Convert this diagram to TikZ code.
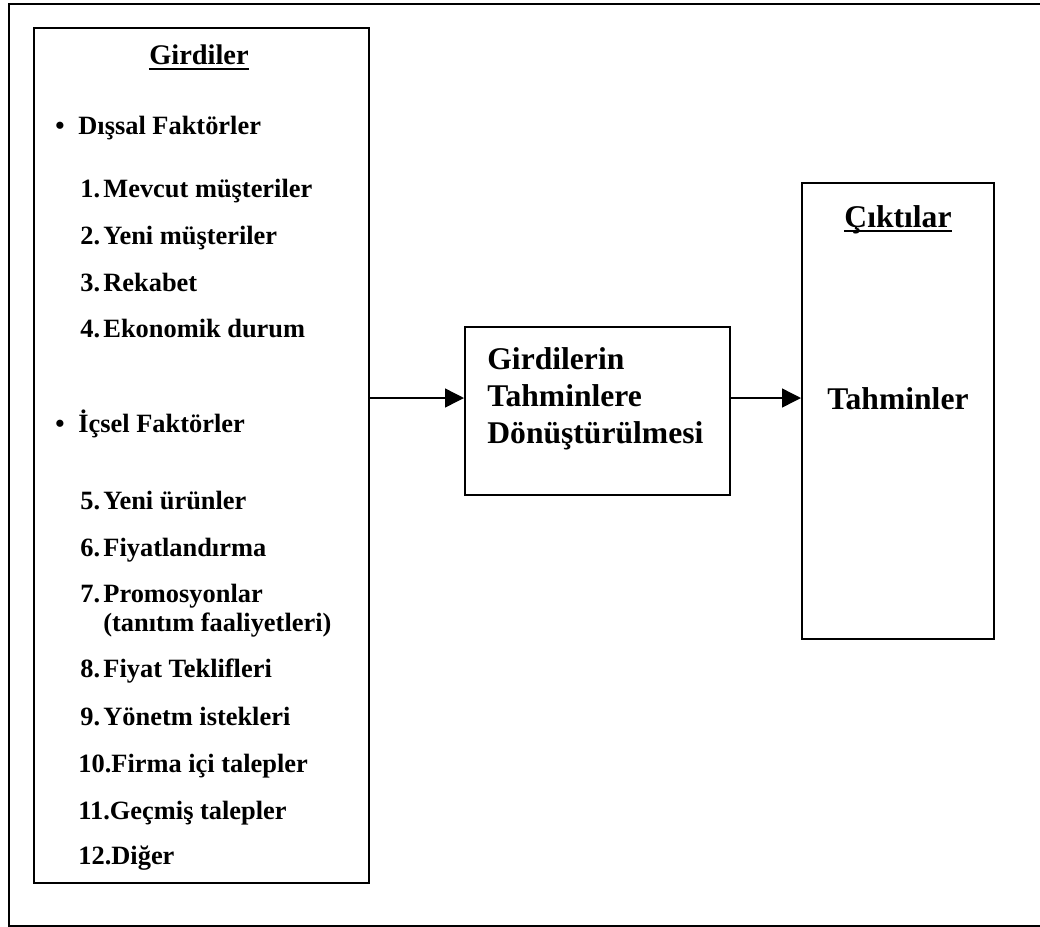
\documentclass[tikz,border=0pt]{standalone}
\usepackage{fontspec}
\setmainfont{Liberation Serif}
\usetikzlibrary{arrows.meta}

\begin{document}
\begin{tikzpicture}[x=0.5pt, y=-0.5pt,
  kutu/.style={draw, line width=1pt, inner sep=0pt},
  baslik/.style={anchor=base, inner sep=0pt, font=\fontsize{13.2}{15}\selectfont\bfseries},
  madde/.style={anchor=base west, inner sep=0pt, font=\fontsize{13.2}{15}\selectfont\bfseries},
  buyuk/.style={anchor=base west, inner sep=0pt, font=\fontsize{15.8}{18.5}\selectfont\bfseries},
  alt/.style={line width=1pt},
  ok/.style={line width=0.7pt, -{Triangle[length=9.5pt, width=9.5pt]}}]
\useasboundingbox (0,0) rectangle (1040,927);
\draw[line width=1pt] (9,4) rectangle (1046,926);
% kutular
\path (201.5,455.5) node[kutu, minimum width=167.5pt, minimum height=427.5pt] (girdi) {};
\path (597.5,411) node[kutu, minimum width=132.5pt, minimum height=84pt] (cevir) {};
\path (898,411) node[kutu, minimum width=96pt, minimum height=228pt] (cikti) {};
% girdiler
\path (199,64) node[baslik, font=\fontsize{14.2}{16}\selectfont\bfseries] (girdiler) {Girdiler};
\draw[alt] ([yshift=-2.5pt]girdiler.base west) -- ([yshift=-2.5pt]girdiler.base east);
\path (60,134) node[baslik] (b1) {\textbullet};
\path (78,134) node[madde] (dissal) {Dışsal Faktörler};
\path (80,197) node[madde] (n1) {1.};
\path (103,197) node[madde] (m1) {Mevcut müşteriler};
\path (80,244) node[madde] (n2) {2.};
\path (103,244) node[madde] (m2) {Yeni müşteriler};
\path (80,291) node[madde] (n3) {3.};
\path (103,291) node[madde] (m3) {Rekabet};
\path (80,337) node[madde] (n4) {4.};
\path (103,337) node[madde] (m4) {Ekonomik durum};
\path (60,432) node[baslik] (b2) {\textbullet};
\path (78,432) node[madde] (icsel) {İçsel Faktörler};
\path (80,509) node[madde] (n5) {5.};
\path (103,509) node[madde] (m5) {Yeni ürünler};
\path (80,556) node[madde] (n6) {6.};
\path (103,556) node[madde] (m6) {Fiyatlandırma};
\path (80,602) node[madde] (n7) {7.};
\path (103,602) node[madde] (m7) {Promosyonlar};
\path (103,631) node[madde] (m7b) {(tanıtım faaliyetleri)};
\path (80,677) node[madde] (n8) {8.};
\path (103,677) node[madde] (m8) {Fiyat Teklifleri};
\path (80,725) node[madde] (n9) {9.};
\path (103,725) node[madde] (m9) {Yönetm istekleri};
\path (78,772) node[madde] (m10) {10.Firma içi talepler};
\path (78,819) node[madde] (m11) {11.Geçmiş talepler};
\path (78,864) node[madde] (m12) {12.Diğer};
% donusum
\path (487,369) node[buyuk] (c1) {Girdilerin};
\path (487,406) node[buyuk] (c2) {Tahminlere};
\path (487,443) node[buyuk] (c3) {Dönüştürülmesi};
% ciktilar
\path (898,227) node[baslik, font=\fontsize{15.8}{18.5}\selectfont\bfseries] (ciktilar) {Çıktılar};
\draw[alt] ([yshift=-2pt]ciktilar.base west) -- ([yshift=-2pt]ciktilar.base east);
\path (898,409) node[baslik, font=\fontsize{15.8}{18.5}\selectfont\bfseries] (tahmin) {Tahminler};
% oklar
\coordinate (oky) at (0,398);
\draw[ok] (girdi.east |- oky) -- (cevir.west |- oky);
\draw[ok] (cevir.east |- oky) -- (cikti.west |- oky);
\end{tikzpicture}
\end{document}
